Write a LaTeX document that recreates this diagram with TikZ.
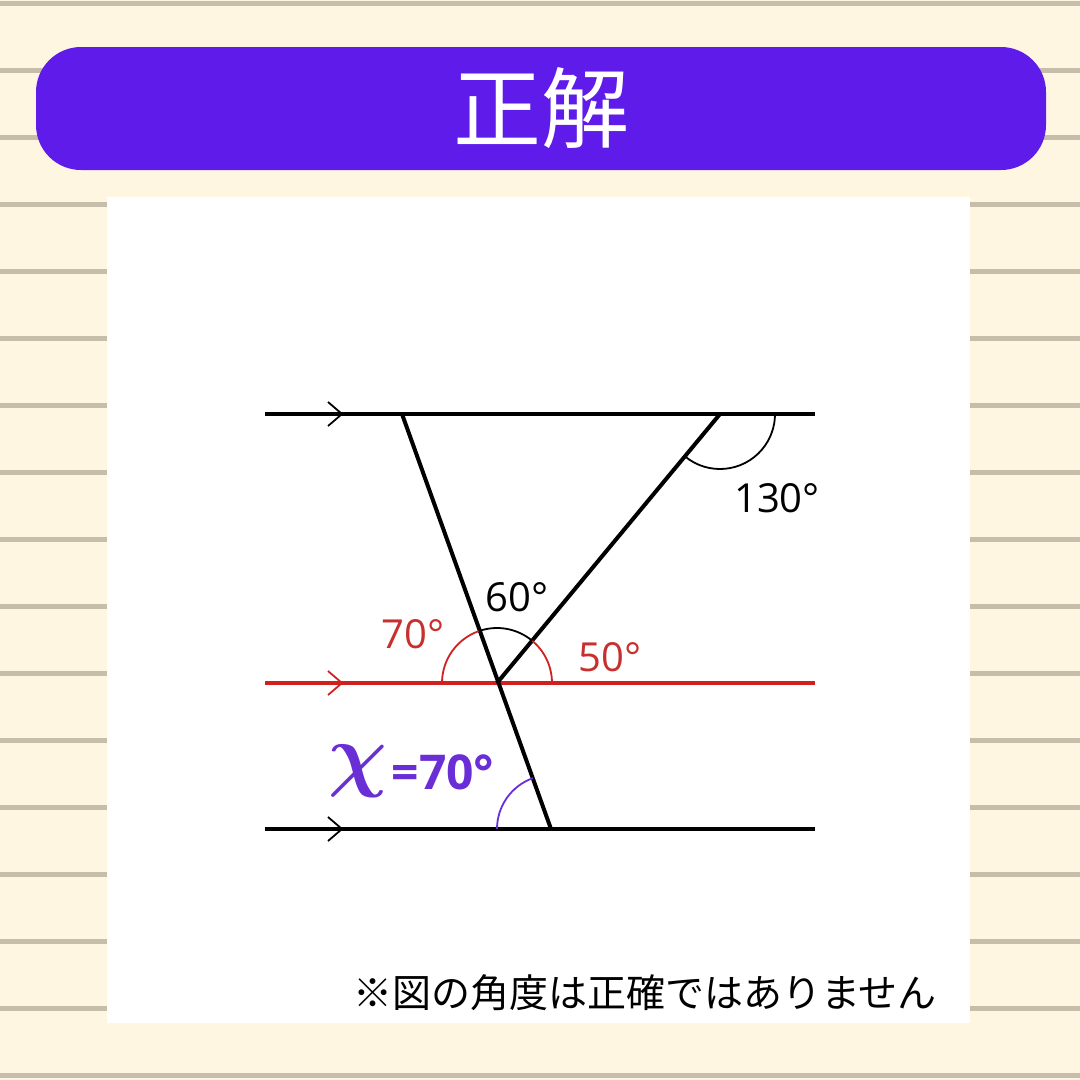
\documentclass[tikz,border=0pt]{standalone}
\usepackage{bm}
\usepackage{fontspec}
\setmainfont{Open Sans}
\newfontfamily\cjk{Noto Sans CJK JP}

\definecolor{paper}{HTML}{FEF6E1}
\definecolor{ruleGrey}{HTML}{C6BEAB}
\definecolor{bannerPurple}{HTML}{5F1BE9}
\definecolor{lineRed}{HTML}{D02020}
\definecolor{labelRed}{HTML}{C83030}
\definecolor{answer}{HTML}{6A2ED6}

\tikzset{
	rule/.style={draw=ruleGrey, line width=5pt},
	parline/.style={line width=4pt},
	chev/.style={line width=1.8pt},
	anglearc/.style={line width=1.8pt},
	deg/.style={inner sep=0pt, font=\fontsize{40}{40}\selectfont},
}

\newcommand{\Chevron}[2]{
	\draw[chev, #2] (#1) ++(-14,12) -- ++(14,-12) -- ++(-14,-12);
}

\begin{document}
\begin{tikzpicture}[x=1pt, y=1pt]

\useasboundingbox (0,0) rectangle (1080,-1080);
\fill[paper] (0,0) rectangle (1080,-1080);
\foreach \y in {3,70,...,1075}
	\draw[rule] (0,-\y) -- (1080,-\y);

\node (banner) at (541,-108.5) [rectangle, rounded corners=45pt, fill=bannerPurple, minimum width=1010pt, minimum height=123pt, text=white, font=\cjk\fontsize{88}{88}\selectfont] {正解};
\node (panel) at (538.5,-610) [rectangle, fill=white, minimum width=863pt, minimum height=826pt] {};

% parallel lines and transversals
\coordinate (topL) at (265,-414);
\coordinate (topR) at (815,-414);
\coordinate (midL) at (265,-683);
\coordinate (midR) at (815,-683);
\coordinate (botL) at (265,-829);
\coordinate (botR) at (815,-829);
\coordinate (A) at (402,-414);
\coordinate (Q) at (720,-414);
\coordinate (P) at (497,-683);
\coordinate (B) at (551,-829);

\draw[parline] (topL) -- (topR);
\draw[parline, lineRed] (midL) -- (midR);
\draw[parline] (botL) -- (botR);
\draw[parline] (A) -- (B);
\draw[parline] (P) -- (Q);

\coordinate (arTop) at (342,-414);
\coordinate (arMid) at (342,-683);
\coordinate (arBot) at (342,-829);
\Chevron{arTop}{black}
\Chevron{arMid}{lineRed}
\Chevron{arBot}{black}

% angle marks
\draw[anglearc] (Q) ++(-129.7:55) arc[start angle=-129.7, end angle=0, radius=55];
\draw[anglearc, lineRed] (P) ++(0:55) arc[start angle=0, end angle=50.3, radius=55];
\draw[anglearc] (P) ++(50.3:55) arc[start angle=50.3, end angle=109.5, radius=55];
\draw[anglearc, lineRed] (P) ++(109.5:55) arc[start angle=109.5, end angle=180, radius=55];
\draw[anglearc, answer] (B) ++(109.5:54) arc[start angle=109.5, end angle=180, radius=54];

\node (l130) at (777,-498) [deg] {130°};
\node (l60) at (517,-597) [deg] {60°};
\node (l70) at (413,-634) [deg, text=labelRed] {70°};
\node (l50) at (610,-657) [deg, text=labelRed] {50°};
\node (chi) at (358,-771) [inner sep=0pt, text=answer, scale=8.2] {$\bm{\chi}$};
\node (ans) at (443,-772) [inner sep=0pt, text=answer, font=\bfseries\fontsize{48}{48}\selectfont] {=70°};

\node (note) at (645,-993) [font=\cjk\fontsize{39}{39}\selectfont] {※図の角度は正確ではありません};

\end{tikzpicture}
\end{document}
